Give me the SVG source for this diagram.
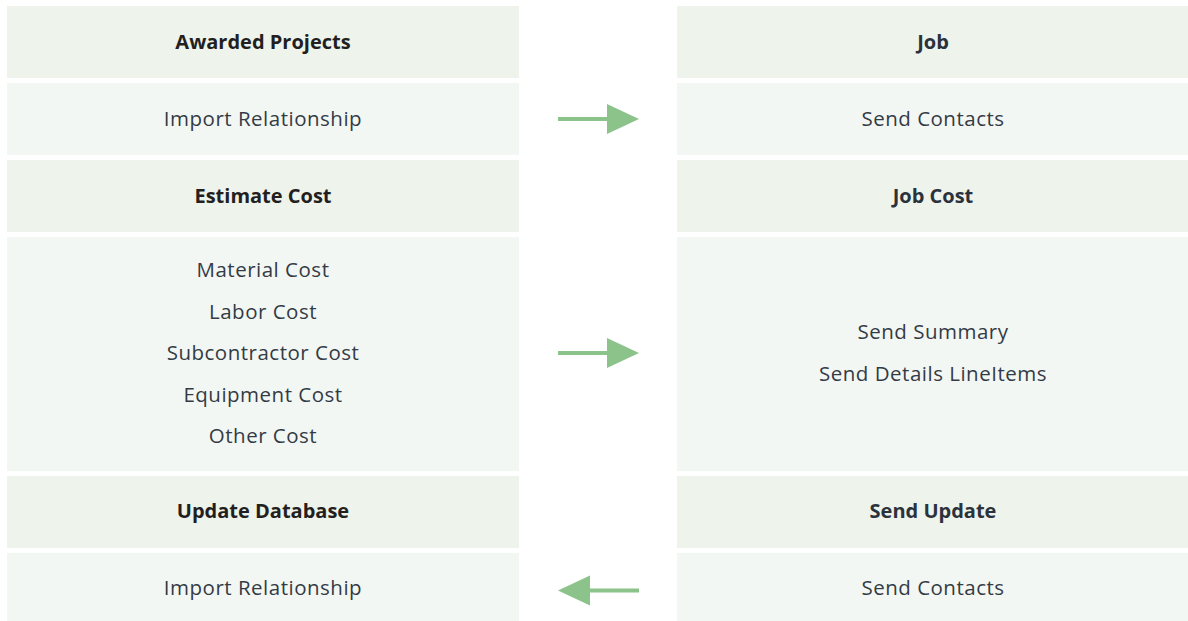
<svg xmlns="http://www.w3.org/2000/svg" width="1188" height="621" viewBox="0 0 1188 621">
  <defs>
    <style>
      .hd { fill: #EEF3EC; }
      .ct { fill: #F3F7F4; }
      text { font-family: "Open Sans", "Noto Sans", "Liberation Sans", sans-serif; font-size: 20.5px; letter-spacing: 0.5px; text-anchor: middle; dominant-baseline: central; }
      .hl { font-weight: bold; fill: #231F20; font-size: 20px; letter-spacing: 0; }
      .hr { font-weight: bold; fill: #2B323C; font-size: 20px; letter-spacing: 0; }
      .tx { fill: #333B45; }
      .ar { stroke: #8BC38A; stroke-width: 4; fill: none; }
      .ah { fill: #8BC38A; }
    </style>
  </defs>
  <rect width="1188" height="621" fill="#FFFFFF"/>
  <g id="awarded-projects">
    <rect class="hd" x="7" y="6" width="512" height="72"/>
    <text class="hl" x="263" y="41">Awarded Projects</text>
  </g>
  <g id="import-relationship-1">
    <rect class="ct" x="7" y="83" width="512" height="72"/>
    <text class="tx" x="263" y="118">Import Relationship</text>
  </g>
  <g id="estimate-cost">
    <rect class="hd" x="7" y="160" width="512" height="72"/>
    <text class="hl" x="263" y="195">Estimate Cost</text>
  </g>
  <g id="cost-items">
    <rect class="ct" x="7" y="237" width="512" height="234"/>
    <text class="tx" x="263" y="269">Material Cost</text>
    <text class="tx" x="263" y="310.5">Labor Cost</text>
    <text class="tx" x="263" y="352">Subcontractor Cost</text>
    <text class="tx" x="263" y="393.5">Equipment Cost</text>
    <text class="tx" x="263" y="435">Other Cost</text>
  </g>
  <g id="update-database">
    <rect class="hd" x="7" y="476" width="512" height="72"/>
    <text class="hl" x="263" y="510">Update Database</text>
  </g>
  <g id="import-relationship-2">
    <rect class="ct" x="7" y="553" width="512" height="72"/>
    <text class="tx" x="263" y="587">Import Relationship</text>
  </g>
  <g id="job">
    <rect class="hd" x="677" y="6" width="512" height="72"/>
    <text class="hr" x="933" y="41">Job</text>
  </g>
  <g id="send-contacts-1">
    <rect class="ct" x="677" y="83" width="512" height="72"/>
    <text class="tx" x="933" y="118">Send Contacts</text>
  </g>
  <g id="job-cost">
    <rect class="hd" x="677" y="160" width="512" height="72"/>
    <text class="hr" x="933" y="195">Job Cost</text>
  </g>
  <g id="send-summary">
    <rect class="ct" x="677" y="237" width="512" height="234"/>
    <text class="tx" x="933" y="331">Send Summary</text>
    <text class="tx" x="933" y="373">Send Details LineItems</text>
  </g>
  <g id="send-update">
    <rect class="hd" x="677" y="476" width="512" height="72"/>
    <text class="hr" x="933" y="510">Send Update</text>
  </g>
  <g id="send-contacts-2">
    <rect class="ct" x="677" y="553" width="512" height="72"/>
    <text class="tx" x="933" y="587">Send Contacts</text>
  </g>
  <g id="connectors">
    <line class="ar" x1="558" y1="119" x2="609" y2="119"/>
    <polygon class="ah" points="607,104 639,119 607,134"/>
    <line class="ar" x1="558" y1="353" x2="609" y2="353"/>
    <polygon class="ah" points="607,338 639,353 607,368"/>
    <line class="ar" x1="639" y1="590.5" x2="588" y2="590.5"/>
    <polygon class="ah" points="590,575.5 558,590.5 590,605.5"/>
  </g>
</svg>
